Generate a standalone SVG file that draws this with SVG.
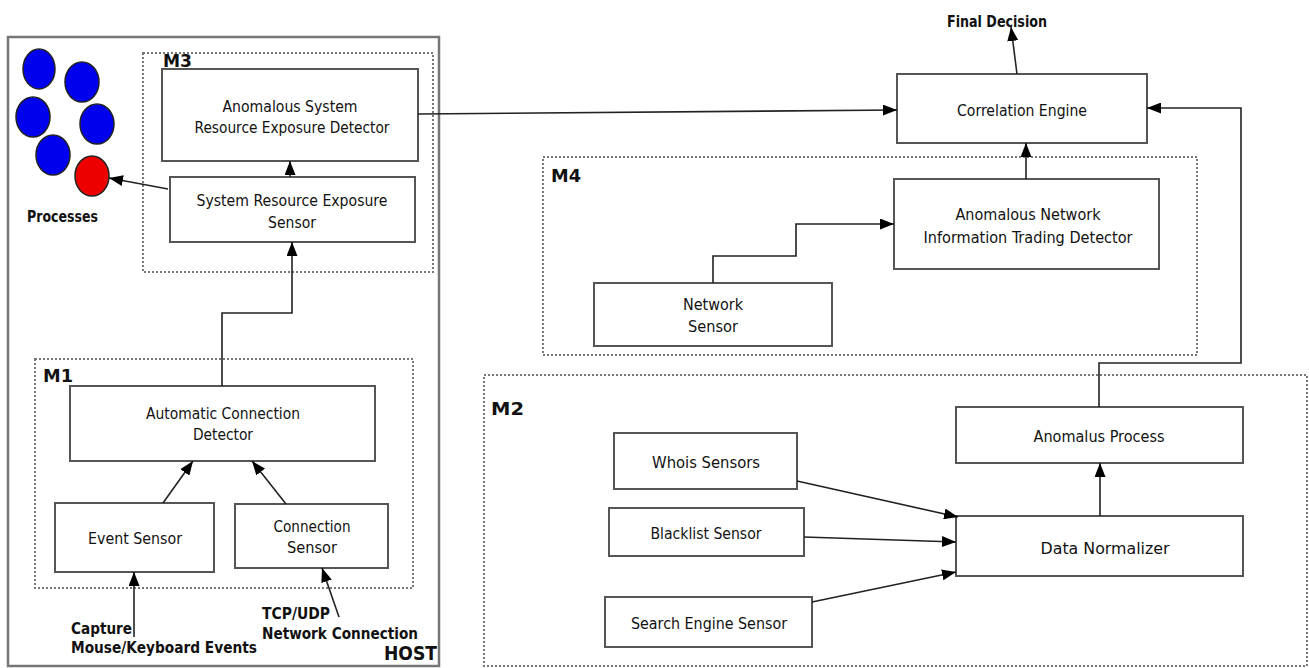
<svg xmlns="http://www.w3.org/2000/svg" width="1309" height="668" viewBox="0 0 1309 668">
  <defs>
    <marker id="arr" viewBox="0 0 14 11" refX="14" refY="5.5" markerWidth="14" markerHeight="11" markerUnits="userSpaceOnUse" orient="auto">
      <path d="M0,0 L14,5.5 L0,11 z" fill="#000"/>
    </marker>
    <style>
      .box { fill: #fff; stroke: #555; stroke-width: 2; }
      .frame { fill: none; stroke: #777; stroke-width: 2; stroke-dasharray: 2 2; }
      .host { fill: none; stroke: #777; stroke-width: 2.5; }
      .conn { fill: none; stroke: #222; stroke-width: 1.6; marker-end: url(#arr); }
      text { font-family: "DejaVu Sans", "Liberation Sans", sans-serif; fill: #111; dominant-baseline: central; }
      .t { font-size: 16px; text-anchor: middle; }
      .tc { font-family: "DejaVu Sans Condensed", "DejaVu Sans", sans-serif; font-size: 16px; text-anchor: middle; }
      .b { font-weight: bold; font-size: 16px; }
      .mod { font-weight: bold; font-size: 18px; }
      .proc { stroke: #222; stroke-width: 1.5; }
    </style>
  </defs>

  <!-- host frame -->
  <rect class="host" x="8" y="37" width="431" height="629"/>
  <text class="mod" x="384" y="653" textLength="53" lengthAdjust="spacingAndGlyphs" style="font-size:20px">HOST</text>

  <!-- module frames -->
  <rect class="frame" x="143" y="53" width="290" height="219"/>
  <text class="mod" x="163" y="60" textLength="29" lengthAdjust="spacingAndGlyphs">M3</text>
  <rect class="frame" x="35" y="359" width="378" height="229"/>
  <text class="mod" x="43" y="375" textLength="30" lengthAdjust="spacingAndGlyphs">M1</text>
  <rect class="frame" x="543" y="157" width="654" height="198"/>
  <text class="mod" x="551" y="175" textLength="30" lengthAdjust="spacingAndGlyphs">M4</text>
  <rect class="frame" x="484" y="375" width="823" height="291"/>
  <text class="mod" x="491" y="408" textLength="33" lengthAdjust="spacingAndGlyphs">M2</text>

  <!-- processes -->
  <g id="processes">
    <ellipse class="proc" cx="39" cy="69" rx="16" ry="20" fill="#0000ee"/>
    <ellipse class="proc" cx="82" cy="82" rx="17" ry="20" fill="#0000ee"/>
    <ellipse class="proc" cx="33" cy="117" rx="17" ry="20" fill="#0000ee"/>
    <ellipse class="proc" cx="97" cy="124" rx="17" ry="20" fill="#0000ee"/>
    <ellipse class="proc" cx="53" cy="155" rx="17" ry="20" fill="#0000ee"/>
    <ellipse class="proc" cx="92" cy="176" rx="17" ry="20" fill="#ee0000"/>
    <text class="b" x="27" y="216" textLength="71" lengthAdjust="spacingAndGlyphs">Processes</text>
  </g>

  <!-- M3 nodes -->
  <g id="asred">
    <rect class="box" x="162" y="69" width="256" height="92"/>
    <text class="t" x="290" y="106" textLength="135" lengthAdjust="spacingAndGlyphs">Anomalous System</text>
    <text class="t" x="292" y="127" textLength="195" lengthAdjust="spacingAndGlyphs">Resource Exposure Detector</text>
  </g>
  <g id="sres">
    <rect class="box" x="170" y="177" width="245" height="65"/>
    <text class="t" x="292" y="200" textLength="191" lengthAdjust="spacingAndGlyphs">System Resource Exposure</text>
    <text class="t" x="292" y="222" textLength="48" lengthAdjust="spacingAndGlyphs">Sensor</text>
  </g>

  <!-- M1 nodes -->
  <g id="acd">
    <rect class="box" x="70" y="386" width="305" height="75"/>
    <text class="t" x="223" y="413" textLength="154" lengthAdjust="spacingAndGlyphs">Automatic Connection</text>
    <text class="t" x="223" y="434" textLength="60" lengthAdjust="spacingAndGlyphs">Detector</text>
  </g>
  <g id="event-sensor">
    <rect class="box" x="55" y="503" width="159" height="69"/>
    <text class="t" x="135" y="538" textLength="94" lengthAdjust="spacingAndGlyphs">Event Sensor</text>
  </g>
  <g id="connection-sensor">
    <rect class="box" x="235" y="504" width="153" height="64"/>
    <text class="t" x="312" y="526" textLength="77" lengthAdjust="spacingAndGlyphs">Connection</text>
    <text class="t" x="312" y="547" textLength="50" lengthAdjust="spacingAndGlyphs">Sensor</text>
  </g>
  <g id="inputs">
    <text class="b" x="71" y="628" textLength="61" lengthAdjust="spacingAndGlyphs">Capture</text>
    <text class="b" x="71" y="647" textLength="186" lengthAdjust="spacingAndGlyphs">Mouse/Keyboard Events</text>
    <text class="b" x="262" y="613" textLength="68" lengthAdjust="spacingAndGlyphs">TCP/UDP</text>
    <text class="b" x="262" y="633" textLength="156" lengthAdjust="spacingAndGlyphs">Network Connection</text>
  </g>

  <!-- correlation -->
  <g id="final-decision">
    <text class="b" x="947" y="21" textLength="100" lengthAdjust="spacingAndGlyphs">Final Decision</text>
  </g>
  <g id="correlation-engine">
    <rect class="box" x="897" y="74" width="250" height="69"/>
    <text class="tc" x="1022" y="110" textLength="130" lengthAdjust="spacingAndGlyphs">Correlation Engine</text>
  </g>

  <!-- M4 nodes -->
  <g id="anitd">
    <rect class="box" x="894" y="179" width="265" height="90"/>
    <text class="tc" x="1028" y="214" textLength="145" lengthAdjust="spacingAndGlyphs">Anomalous Network</text>
    <text class="tc" x="1028" y="237" textLength="209" lengthAdjust="spacingAndGlyphs">Information Trading Detector</text>
  </g>
  <g id="network-sensor">
    <rect class="box" x="594" y="283" width="238" height="63"/>
    <text class="tc" x="713" y="304" textLength="60" lengthAdjust="spacingAndGlyphs">Network</text>
    <text class="tc" x="713" y="326" textLength="50" lengthAdjust="spacingAndGlyphs">Sensor</text>
  </g>

  <!-- M2 nodes -->
  <g id="anomalus-process">
    <rect class="box" x="956" y="407" width="287" height="56"/>
    <text class="tc" x="1099" y="436" textLength="131" lengthAdjust="spacingAndGlyphs">Anomalus Process</text>
  </g>
  <g id="data-normalizer">
    <rect class="box" x="956" y="516" width="287" height="60"/>
    <text class="tc" x="1105" y="548" textLength="129" lengthAdjust="spacingAndGlyphs">Data Normalizer</text>
  </g>
  <g id="whois">
    <rect class="box" x="614" y="433" width="183" height="56"/>
    <text class="tc" x="706" y="462" textLength="108" lengthAdjust="spacingAndGlyphs">Whois Sensors</text>
  </g>
  <g id="blacklist">
    <rect class="box" x="609" y="508" width="195" height="48"/>
    <text class="tc" x="706" y="533" textLength="111" lengthAdjust="spacingAndGlyphs">Blacklist Sensor</text>
  </g>
  <g id="search-engine">
    <rect class="box" x="605" y="597" width="207" height="50"/>
    <text class="tc" x="709" y="623" textLength="156" lengthAdjust="spacingAndGlyphs">Search Engine Sensor</text>
  </g>

  <!-- connectors -->
  <g id="connectors">
    <path class="conn" d="M290,177 L290,161"/>
    <path class="conn" d="M168,189 L109,178"/>
    <path class="conn" d="M222,386 L222,313 L292,313 L292,242"/>
    <path class="conn" d="M163,503 L193,461"/>
    <path class="conn" d="M286,504 L252,461"/>
    <path class="conn" d="M134,637 L134,572"/>
    <path class="conn" d="M339,617 L322,568"/>
    <path class="conn" d="M418,114 L897,110"/>
    <path class="conn" d="M1017,74 L1011,27"/>
    <path class="conn" d="M1026,179 L1026,143"/>
    <path class="conn" d="M713,283 L713,256 L796,256 L796,224 L894,224"/>
    <path class="conn" d="M1099,407 L1099,363 L1241,363 L1241,108 L1147,108"/>
    <path class="conn" d="M1100,516 L1100,463"/>
    <path class="conn" d="M797,481 L958,517"/>
    <path class="conn" d="M804,537 L956,542"/>
    <path class="conn" d="M812,602 L956,572"/>
  </g>
</svg>
